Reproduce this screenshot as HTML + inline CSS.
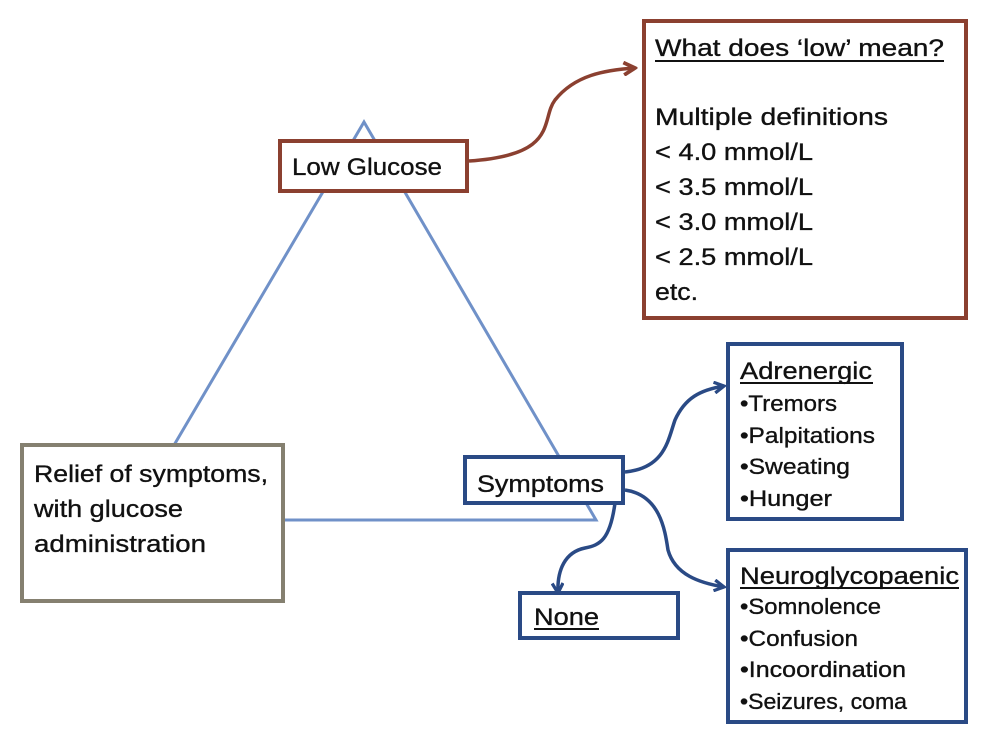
<!DOCTYPE html>
<html><head><meta charset="utf-8"><style>
html,body{margin:0;padding:0;background:#fff;}
svg{display:block;}
text{font-family:"Liberation Sans",sans-serif;fill:#111;stroke:#111;stroke-width:0.35;}
</style></head><body>
<svg width="983" height="741" viewBox="0 0 983 741" xmlns="http://www.w3.org/2000/svg">
<defs>
<marker id="ab" viewBox="0 0 12 12" refX="10" refY="6" markerWidth="13" markerHeight="13" markerUnits="userSpaceOnUse" orient="auto"><path d="M1,1 L10,6 L1,11" fill="none" stroke="#2a4a85" stroke-width="3"/></marker>
<marker id="ar" viewBox="0 0 12 12" refX="10" refY="6" markerWidth="15" markerHeight="15" markerUnits="userSpaceOnUse" orient="auto"><path d="M1,1 L10,6 L1,11" fill="none" stroke="#8b4030" stroke-width="3"/></marker>
</defs>
<polygon points="364,122 596,520 130,520" fill="none" stroke="#7091c8" stroke-width="3"/>
<rect x="280" y="141" width="187" height="50" fill="#fff" stroke="#8b4030" stroke-width="4"/>
<text x="292" y="175" font-size="24" textLength="150" lengthAdjust="spacingAndGlyphs">Low Glucose</text>
<path d="M469,161 C560,155 540,120 555,100 C575,75 605,70 635,68" fill="none" stroke="#8b4030" stroke-width="3.5" marker-end="url(#ar)"/>
<rect x="644" y="21" width="322" height="297" fill="#fff" stroke="#8b4030" stroke-width="4"/>
<text x="655" y="56" font-size="24" textLength="289" lengthAdjust="spacingAndGlyphs">What does  ‘low’ mean?</text>
<line x1="655" y1="61" x2="944" y2="61" stroke="#111" stroke-width="2"/>
<text x="655" y="125" font-size="24" textLength="233" lengthAdjust="spacingAndGlyphs">Multiple definitions</text>
<text x="655" y="160" font-size="24" textLength="158" lengthAdjust="spacingAndGlyphs">&lt; 4.0 mmol/L</text>
<text x="655" y="195" font-size="24" textLength="158" lengthAdjust="spacingAndGlyphs">&lt; 3.5 mmol/L</text>
<text x="655" y="230" font-size="24" textLength="158" lengthAdjust="spacingAndGlyphs">&lt; 3.0 mmol/L</text>
<text x="655" y="265" font-size="24" textLength="158" lengthAdjust="spacingAndGlyphs">&lt; 2.5 mmol/L</text>
<text x="655" y="300" font-size="24" textLength="43" lengthAdjust="spacingAndGlyphs">etc.</text>
<rect x="22" y="445" width="261" height="156" fill="#fff" stroke="#858070" stroke-width="4"/>
<text x="34" y="482" font-size="24" textLength="234" lengthAdjust="spacingAndGlyphs">Relief of symptoms,</text>
<text x="34" y="517" font-size="24" textLength="149" lengthAdjust="spacingAndGlyphs">with glucose</text>
<text x="34" y="552" font-size="24" textLength="172" lengthAdjust="spacingAndGlyphs">administration</text>
<rect x="465" y="457" width="158" height="46" fill="#fff" stroke="#2a4a85" stroke-width="4"/>
<text x="477" y="492" font-size="24" textLength="127" lengthAdjust="spacingAndGlyphs">Symptoms</text>
<path d="M625,472 C665,468 668,440 675,420 C685,398 700,390 724,386" fill="none" stroke="#2a4a85" stroke-width="3.5" marker-end="url(#ab)"/>
<path d="M625,490 C660,495 665,530 668,550 C675,575 700,583 724,587" fill="none" stroke="#2a4a85" stroke-width="3.5" marker-end="url(#ab)"/>
<path d="M615,503 C610,540 600,545 585,548 C565,552 557,570 558,593" fill="none" stroke="#2a4a85" stroke-width="3.5" marker-end="url(#ab)"/>
<rect x="728" y="344" width="174" height="175" fill="#fff" stroke="#2a4a85" stroke-width="4"/>
<text x="740" y="379" font-size="24" textLength="132" lengthAdjust="spacingAndGlyphs">Adrenergic</text>
<line x1="740" y1="383" x2="873" y2="383" stroke="#111" stroke-width="2"/>
<text x="740" y="411" font-size="22" textLength="97" lengthAdjust="spacingAndGlyphs">•Tremors</text>
<text x="740" y="443" font-size="22" textLength="135" lengthAdjust="spacingAndGlyphs">•Palpitations</text>
<text x="740" y="474" font-size="22" textLength="110" lengthAdjust="spacingAndGlyphs">•Sweating</text>
<text x="740" y="506" font-size="22" textLength="92" lengthAdjust="spacingAndGlyphs">•Hunger</text>
<rect x="728" y="550" width="238" height="172" fill="#fff" stroke="#2a4a85" stroke-width="4"/>
<text x="740" y="584" font-size="24" textLength="219" lengthAdjust="spacingAndGlyphs">Neuroglycopaenic</text>
<line x1="740" y1="588" x2="959" y2="588" stroke="#111" stroke-width="2"/>
<text x="740" y="614" font-size="22" textLength="141" lengthAdjust="spacingAndGlyphs">•Somnolence</text>
<text x="740" y="646" font-size="22" textLength="118" lengthAdjust="spacingAndGlyphs">•Confusion</text>
<text x="740" y="677" font-size="22" textLength="166" lengthAdjust="spacingAndGlyphs">•Incoordination</text>
<text x="740" y="709" font-size="22" textLength="167" lengthAdjust="spacingAndGlyphs">•Seizures, coma</text>
<rect x="520" y="593" width="158" height="45" fill="#fff" stroke="#2a4a85" stroke-width="4"/>
<text x="534" y="625" font-size="24" textLength="65" lengthAdjust="spacingAndGlyphs">None</text>
<line x1="534" y1="629" x2="599" y2="629" stroke="#111" stroke-width="2"/>
</svg>
</body></html>
